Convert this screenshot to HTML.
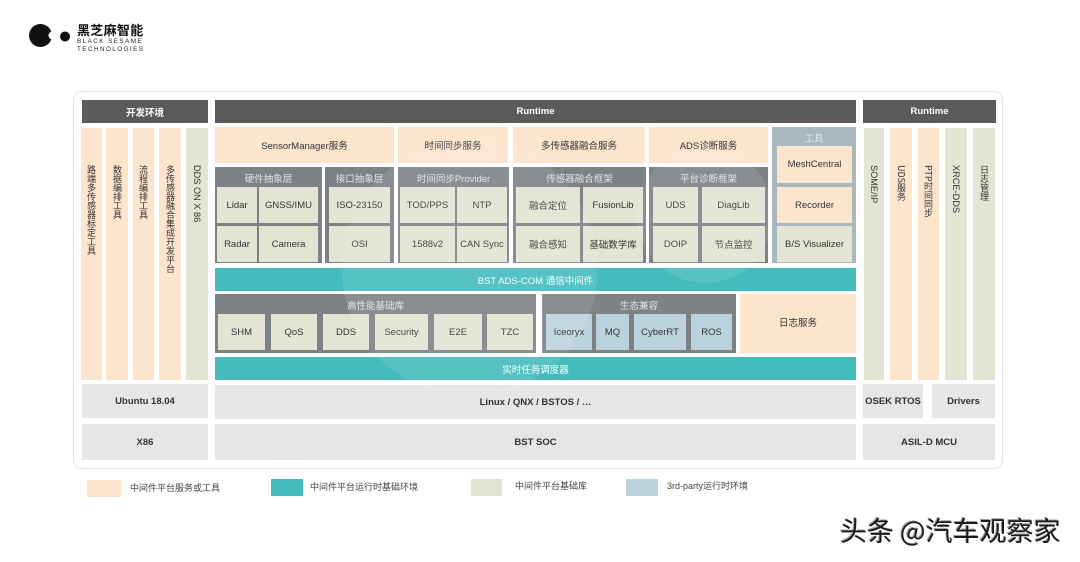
<!DOCTYPE html>
<html><head><meta charset="utf-8">
<style>
*{margin:0;padding:0;box-sizing:border-box}
body{width:1080px;height:562px;background:#fff;position:relative;overflow:hidden;font-family:"Liberation Sans","Noto Sans CJK SC",sans-serif}
.b{position:absolute;display:flex;align-items:center;justify-content:center;font-size:9.5px;color:#333;text-align:center;white-space:nowrap}
.h{background:#5b5b5b;color:#fff;font-weight:bold}
.o{background:#fde4cd}
.e{background:#e4e4d4}
.g{background:#e6e6e8;font-weight:bold;color:#333}
.t{background:#44bcbd;color:#f4ffff}
.u{background:#bcd3dd}
.gr{background:#7d8286}
.tl{background:#a9b8be}
.lb{color:#e2e4e6;font-size:9.5px}
.v{position:absolute}
.v span{position:absolute;top:37px;left:0;right:0;writing-mode:vertical-rl;text-orientation:mixed;font-family:"Noto Sans CJK SC","Liberation Sans",sans-serif;font-size:9px;color:#333;white-space:nowrap}
.v span.lat{font-family:"Liberation Sans","Noto Sans CJK SC",sans-serif;font-size:9.2px}
.leg{position:absolute;font-size:9px;color:#444}
</style></head><body>

<!-- logo -->
<svg style="position:absolute;left:0;top:0" width="80" height="60">
<circle cx="40.5" cy="35.5" r="11.5" fill="#111"/>
<circle cx="52.5" cy="35.5" r="4" fill="#fff"/>
<circle cx="65" cy="36.5" r="5" fill="#111"/>
</svg>
<div style="position:absolute;left:77px;top:20px;font-size:13px;font-weight:bold;color:#111;letter-spacing:0.3px">黑芝麻智能</div>
<div style="position:absolute;left:77px;top:38px;font-size:6.3px;color:#222;letter-spacing:1.45px;line-height:8px">BLACK SESAME<br>TECHNOLOGIES</div>

<!-- container -->
<div style="position:absolute;left:73px;top:91px;width:930px;height:378px;border:1px solid #e4e4e4;border-radius:8px"></div>

<!-- headers -->
<div class="b h" style="left:82px;top:100px;width:126px;height:23px">开发环境</div>
<div class="b h" style="left:215px;top:100px;width:641px;height:23px">Runtime</div>
<div class="b h" style="left:863px;top:100px;width:133px;height:23px">Runtime</div>

<!-- left columns -->
<div class="v o" style="left:81px;top:128px;width:21px;height:252px"><span style="line-height:21px">路端多传感器标定工具</span></div>
<div class="v o" style="left:106px;top:128px;width:22px;height:252px"><span style="line-height:22px">数据编排工具</span></div>
<div class="v o" style="left:133px;top:128px;width:21px;height:252px"><span style="line-height:21px">流程编排工具</span></div>
<div class="v o" style="left:159px;top:128px;width:22px;height:252px"><span style="line-height:22px">多传感器融合集成开发平台</span></div>
<div class="v e" style="left:186px;top:128px;width:22px;height:252px"><span class="lat" style="line-height:22px">DDS ON X 86</span></div>

<div class="b g" style="left:82px;top:384px;width:126px;height:34px">Ubuntu 18.04</div>
<div class="b g" style="left:82px;top:424px;width:126px;height:36px">X86</div>

<!-- middle: services row -->
<div class="b o" style="left:215px;top:127px;width:179px;height:36px">SensorManager服务</div>
<div class="b o" style="left:398px;top:127px;width:110px;height:36px">时间同步服务</div>
<div class="b o" style="left:513px;top:127px;width:132px;height:36px">多传感器融合服务</div>
<div class="b o" style="left:649px;top:127px;width:119px;height:36px">ADS诊断服务</div>

<!-- tools -->
<div class="b tl" style="left:772px;top:127px;width:84px;height:136px"></div>
<div class="b lb" style="left:772px;top:128px;width:84px;height:19px">工具</div>
<div class="b o" style="left:777px;top:146px;width:75px;height:37px">MeshCentral</div>
<div class="b o" style="left:777px;top:187px;width:75px;height:36px">Recorder</div>
<div class="b e" style="left:777px;top:226px;width:75px;height:36px">B/S Visualizer</div>

<!-- groups -->
<div class="b gr" style="left:215px;top:167px;width:107px;height:96px"></div>
<div class="b lb" style="left:215px;top:168px;width:107px;height:19px">硬件抽象层</div>
<div class="b e" style="left:217px;top:187px;width:40px;height:36px">Lidar</div>
<div class="b e" style="left:259px;top:187px;width:59px;height:36px">GNSS/IMU</div>
<div class="b e" style="left:217px;top:226px;width:40px;height:36px">Radar</div>
<div class="b e" style="left:259px;top:226px;width:59px;height:36px">Camera</div>

<div class="b gr" style="left:325px;top:167px;width:69px;height:96px"></div>
<div class="b lb" style="left:325px;top:168px;width:69px;height:19px">接口抽象层</div>
<div class="b e" style="left:329px;top:187px;width:61px;height:36px">ISO-23150</div>
<div class="b e" style="left:329px;top:226px;width:61px;height:36px">OSI</div>

<div class="b gr" style="left:398px;top:167px;width:111px;height:96px"></div>
<div class="b lb" style="left:398px;top:168px;width:111px;height:19px">时间同步Provider</div>
<div class="b e" style="left:400px;top:187px;width:55px;height:36px">TOD/PPS</div>
<div class="b e" style="left:457px;top:187px;width:50px;height:36px">NTP</div>
<div class="b e" style="left:400px;top:226px;width:55px;height:36px">1588v2</div>
<div class="b e" style="left:457px;top:226px;width:50px;height:36px">CAN Sync</div>

<div class="b gr" style="left:513px;top:167px;width:133px;height:96px"></div>
<div class="b lb" style="left:513px;top:168px;width:133px;height:19px">传感器融合框架</div>
<div class="b e" style="left:516px;top:187px;width:64px;height:36px">融合定位</div>
<div class="b e" style="left:583px;top:187px;width:60px;height:36px">FusionLib</div>
<div class="b e" style="left:516px;top:226px;width:64px;height:36px">融合感知</div>
<div class="b e" style="left:583px;top:226px;width:60px;height:36px">基础数学库</div>

<div class="b gr" style="left:649px;top:167px;width:119px;height:96px"></div>
<div class="b lb" style="left:649px;top:168px;width:119px;height:19px">平台诊断框架</div>
<div class="b e" style="left:653px;top:187px;width:45px;height:36px">UDS</div>
<div class="b e" style="left:702px;top:187px;width:63px;height:36px">DiagLib</div>
<div class="b e" style="left:653px;top:226px;width:45px;height:36px">DOIP</div>
<div class="b e" style="left:702px;top:226px;width:63px;height:36px">节点监控</div>

<!-- teal bar 1 -->
<div class="b t" style="left:215px;top:268px;width:641px;height:23px">BST ADS-COM 通信中间件</div>

<!-- high perf -->
<div class="b gr" style="left:215px;top:294px;width:321px;height:59px"></div>
<div class="b lb" style="left:215px;top:295px;width:321px;height:19px">高性能基础库</div>
<div class="b e" style="left:218px;top:314px;width:47px;height:36px">SHM</div>
<div class="b e" style="left:271px;top:314px;width:46px;height:36px">QoS</div>
<div class="b e" style="left:323px;top:314px;width:46px;height:36px">DDS</div>
<div class="b e" style="left:375px;top:314px;width:53px;height:36px">Security</div>
<div class="b e" style="left:434px;top:314px;width:48px;height:36px">E2E</div>
<div class="b e" style="left:487px;top:314px;width:46px;height:36px">TZC</div>

<div class="b gr" style="left:542px;top:294px;width:194px;height:59px"></div>
<div class="b lb" style="left:542px;top:295px;width:194px;height:19px">生态兼容</div>
<div class="b u" style="left:546px;top:314px;width:46px;height:36px">Iceoryx</div>
<div class="b u" style="left:596px;top:314px;width:33px;height:36px">MQ</div>
<div class="b u" style="left:634px;top:314px;width:52px;height:36px">CyberRT</div>
<div class="b u" style="left:691px;top:314px;width:41px;height:36px">ROS</div>

<div class="b o" style="left:740px;top:294px;width:116px;height:59px;padding-bottom:3px">日志服务</div>

<div class="b t" style="left:215px;top:357px;width:641px;height:23px">实时任务调度器</div>
<div class="b g" style="left:215px;top:385px;width:641px;height:34px">Linux / QNX / BSTOS / …</div>
<div class="b g" style="left:215px;top:424px;width:641px;height:36px">BST SOC</div>

<!-- right columns -->
<div class="v e" style="left:864px;top:128px;width:20px;height:252px"><span class="lat" style="line-height:20px">SOME/IP</span></div>
<div class="v o" style="left:890px;top:128px;width:22px;height:252px"><span style="line-height:22px">UDS服务</span></div>
<div class="v o" style="left:918px;top:128px;width:21px;height:252px"><span style="line-height:21px">PTP时间同步</span></div>
<div class="v e" style="left:945px;top:128px;width:22px;height:252px"><span class="lat" style="line-height:22px">XRCE-DDS</span></div>
<div class="v e" style="left:973px;top:128px;width:22px;height:252px"><span style="line-height:22px">日志管理</span></div>

<div class="b g" style="left:863px;top:384px;width:60px;height:34px">OSEK RTOS</div>
<div class="b g" style="left:932px;top:384px;width:63px;height:34px">Drivers</div>
<div class="b g" style="left:863px;top:424px;width:132px;height:36px">ASIL-D MCU</div>

<!-- watermark circles -->
<svg style="position:absolute;left:0;top:0;pointer-events:none" width="1080" height="562">
<circle cx="470" cy="268" r="128" fill="#fff" fill-opacity="0.1"/>
<circle cx="705" cy="215" r="68" fill="#fff" fill-opacity="0.1"/>
</svg>

<!-- legend -->
<div style="position:absolute;left:87px;top:480px;width:34px;height:17px;background:#fde4cd"></div>
<div class="leg" style="left:130px;top:481px">中间件平台服务或工具</div>
<div style="position:absolute;left:271px;top:479px;width:32px;height:17px;background:#44bcbd"></div>
<div class="leg" style="left:310px;top:480px">中间件平台运行时基础环境</div>
<div style="position:absolute;left:471px;top:479px;width:31px;height:17px;background:#e4e4d4"></div>
<div class="leg" style="left:515px;top:479px">中间件平台基础库</div>
<div style="position:absolute;left:626px;top:479px;width:32px;height:17px;background:#bcd3dd"></div>
<div class="leg" style="left:667px;top:479px">3rd-party运行时环境</div>

<!-- watermark text -->
<div style="position:absolute;left:840px;top:512px;font-size:27px;line-height:36px;color:#1a1a1a;white-space:nowrap;font-family:'Noto Sans CJK SC','WenQuanYi Zen Hei',sans-serif;text-shadow:1px 1px 0 #fff,-1px -1px 0 #999">头条 @汽车观察家</div>

</body></html>
